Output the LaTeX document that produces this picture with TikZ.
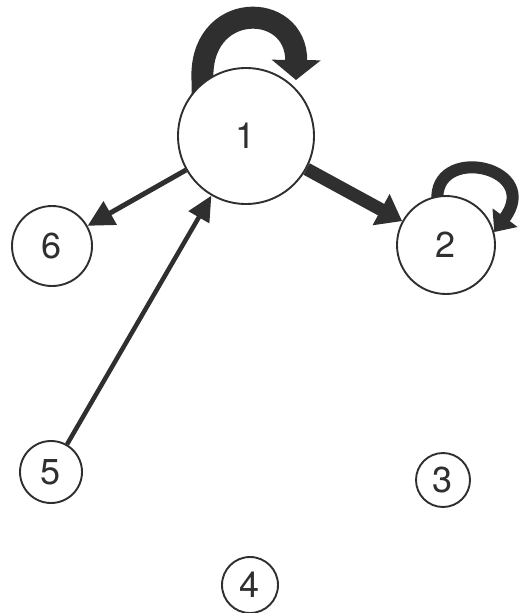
\documentclass[tikz,border=0pt]{standalone}
\usepackage{fontspec}
\setmainfont{TeX Gyre Heros}
\usetikzlibrary{arrows.meta,backgrounds}
\definecolor{ink}{HTML}{2F2F2F}
\begin{document}
\begin{tikzpicture}[x=1pt,y=-1pt,
  state/.style={circle,draw=ink,line width=1.9pt,inner sep=0pt,fill=white,
    font=\fontsize{36}{36}\selectfont,text=ink},
  edgeline/.style={draw=ink,line cap=butt}]
\useasboundingbox (0,0) rectangle (520,613);
\node[state,minimum size=136pt] (n1) at (246,136) {1};
\node[state,minimum size=98pt] (n2) at (446,245) {2};
\node[state,minimum size=80pt] (n6) at (52,246) {6};
\node[state,minimum size=62pt] (n5) at (51,472) {5};
\node[state,minimum size=56pt] (n4) at (250,585) {4};
\node[state,minimum size=54pt] (n3) at (443,480) {3};
% edges
\draw[edgeline,line width=5pt,-{Triangle[length=26pt,width=26pt]}] (n1) -- (n6);
\draw[edgeline,line width=4.5pt,-{Triangle[length=25pt,width=23pt]}] (n5) -- (n1);
\draw[edgeline,line width=13pt,-{Triangle[length=24pt,width=34pt]}] (n1) -- (n2);
% self loops (behind the circles)
\begin{scope}[on background layer]
\fill[white] (0,0) rectangle (520,613);
\draw[edgeline,line width=22pt,-{Triangle[length=20pt,width=48pt]}]
  ([yshift=-30pt]n1.129) -- (n1.129) .. controls (197,0) and (297,0) .. (296,80);
\draw[edgeline,line width=12pt,-{Triangle[length=18pt,width=30pt]}]
  ([yshift=-20pt]n2.100) -- (n2.100) .. controls (440,145) and (542,168) .. (n2.15);
\end{scope}
\end{tikzpicture}
\end{document}
